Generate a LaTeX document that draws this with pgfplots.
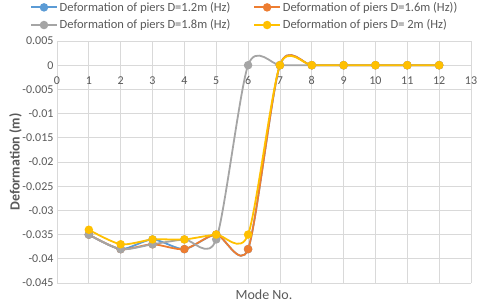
\documentclass[border=0pt]{standalone}
\usepackage{pgfplots}
\pgfplotsset{compat=1.18}
\usepackage{fontspec}
\setmainfont{Carlito}
\definecolor{cblue}{HTML}{5B9BD5}
\definecolor{corange}{HTML}{ED7D31}
\definecolor{cgray}{HTML}{A5A5A5}
\definecolor{cyellow}{HTML}{FFC000}
\definecolor{gridc}{HTML}{D9D9D9}
\definecolor{txt}{HTML}{595959}
\begin{document}
\begin{tikzpicture}
\path[use as bounding box] (0,0) rectangle (480pt,307pt);
\begin{axis}[
  at={(57pt,24pt)}, anchor=south west,
  scale only axis, width=414pt, height=242pt,
  xmin=0, xmax=13, ymin=-0.045, ymax=0.005,
  xtick={0,...,13}, ytick={-0.045,-0.04,...,0.005},
  scaled y ticks=false,
  axis x line=middle, axis y line=left,
  axis line style={gridc, line width=0.8pt, -},
  hide obscured x ticks=false,
  grid=major, major grid style={gridc, line width=0.8pt},
  major tick length=0pt,
  tick label style={font=\fontsize{12}{13}\selectfont, text=txt},
  /pgf/number format/assume math mode=true,
  yticklabel style={/pgf/number format/fixed, /pgf/number format/precision=3},
  xticklabel style={anchor=north, yshift=-8pt},
  clip=false,
  legend columns=2,
  legend cell align=left,
  legend style={at={(axis description cs:-0.065,1.17)}, anchor=north west, draw=none, fill=none, inner sep=0pt,
    font=\fontsize{12.5}{14}\selectfont, text=txt, row sep=3pt,
    /tikz/every even column/.append style={column sep=21pt}},
  legend image code/.code={\draw[mark repeat=2,mark phase=2] plot coordinates {(0cm,0cm)(0.45cm,0cm)(0.9cm,0cm)};},
  every axis plot/.append style={line width=1.8pt, smooth, tension=0.45, mark=*, mark size=3.3pt},
]
\addplot[cblue, mark options={fill=cblue}] coordinates {(1,-0.035)(2,-0.038)(3,-0.036)(4,-0.038)(5,-0.035)(6,-0.038)(7,0)(8,0)(9,0)(10,0)(11,0)(12,0)};
\addlegendentry{Deformation of piers D=1.2m (Hz)}
\addplot[corange, mark options={fill=corange}] coordinates {(1,-0.035)(2,-0.038)(3,-0.037)(4,-0.038)(5,-0.035)(6,-0.038)(7,0)(8,0)(9,0)(10,0)(11,0)(12,0)};
\addlegendentry{Deformation of piers D=1.6m (Hz))}
\addplot[cgray, mark options={fill=cgray}] coordinates {(1,-0.035)(2,-0.038)(3,-0.037)(4,-0.036)(5,-0.036)(6,0)(7,0)(8,0)(9,0)(10,0)(11,0)(12,0)};
\addlegendentry{Deformation of piers D=1.8m (Hz)}
\addplot[cyellow, mark options={fill=cyellow}] coordinates {(1,-0.034)(2,-0.037)(3,-0.036)(4,-0.036)(5,-0.035)(6,-0.035)(7,0)(8,0)(9,0)(10,0)(11,0)(12,0)};
\addlegendentry{Deformation of piers D= 2m (Hz)}
\node[rotate=90, text=txt, font=\bfseries\fontsize{14}{15}\selectfont] at (axis description cs:-0.1,0.5) {Deformation (m)};
\node[text=txt, font=\fontsize{14}{15}\selectfont] at (axis description cs:0.5,-0.05) {Mode No.};
\end{axis}
\end{tikzpicture}
\end{document}
